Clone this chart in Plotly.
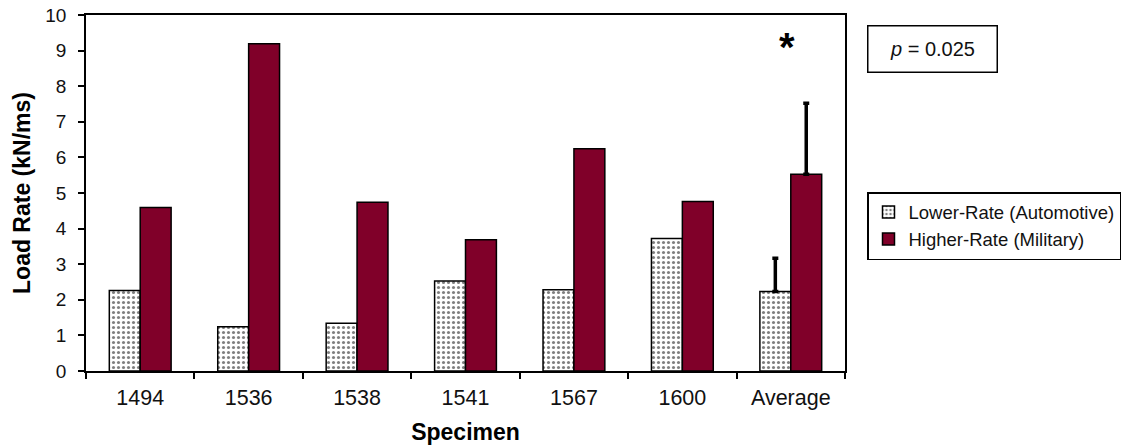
import plotly.graph_objects as go

specimens = ["1494", "1536", "1538", "1541", "1567", "1600"]
avg_label = "Average"
lower_rate = [2.26, 1.24, 1.34, 2.53, 2.28, 3.72]
higher_rate = [4.59, 9.19, 4.74, 3.69, 6.24, 4.76]
lower_avg = [2.23]
higher_avg = [5.53]
lower_sd = [0.94]
higher_sd = [1.99]
y_ticks = [0, 1, 2, 3, 4, 5, 6, 7, 8, 9, 10]

FONT = "Liberation Sans, Arial, sans-serif"
RED = "#800029"
lower_marker = dict(color="white",
                    pattern=dict(shape=".", fgcolor="black", bgcolor="white", size=5, solidity=0.3),
                    line=dict(color="black", width=1.5))
higher_marker = dict(color=RED, line=dict(color="black", width=1.5))
err_style = dict(type="data", symmetric=False, color="black", thickness=3.5, width=3)

fig = go.Figure()
fig.add_trace(go.Bar(x=specimens, y=lower_rate, name="Lower-Rate (Automotive)",
                     marker=lower_marker, offsetgroup="L", legendgroup="L"))
fig.add_trace(go.Bar(x=specimens, y=higher_rate, name="Higher-Rate (Military)",
                     marker=higher_marker, offsetgroup="H", legendgroup="H"))
fig.add_trace(go.Bar(x=[avg_label], y=lower_avg, name="Lower-Rate (Automotive)",
                     marker=lower_marker, offsetgroup="L", legendgroup="L", showlegend=False,
                     error_y=dict(array=lower_sd, arrayminus=[0], **err_style)))
fig.add_trace(go.Bar(x=[avg_label], y=higher_avg, name="Higher-Rate (Military)",
                     marker=higher_marker, offsetgroup="H", legendgroup="H", showlegend=False,
                     error_y=dict(array=higher_sd, arrayminus=[0], **err_style)))

# plot area target: x 86..845, y 15..371 (body margin removed in the page)
W, H = 1123, 446
fig.update_layout(
    width=W, height=H,
    margin=dict(l=86, r=278, t=15, b=75, autoexpand=False),
    paper_bgcolor="white", plot_bgcolor="white",
    font=dict(family=FONT, size=20, color="#111"),
    barmode="group", bargap=0.43, bargroupgap=0,
    legend=dict(xref="container", yref="container",
                x=867 / W, xanchor="left", y=1 - 192 / H, yanchor="top",
                bordercolor="black", borderwidth=1.5, bgcolor="white",
                font=dict(family=FONT, size=18.5, color="#111"),
                itemwidth=30, tracegroupgap=2, traceorder="normal"),
    xaxis=dict(categoryorder="array", categoryarray=specimens + [avg_label], automargin=False,
               showline=True, linecolor="black", linewidth=1.5, mirror=True,
               ticks="outside", tickson="boundaries", ticklen=6, tickcolor="black", tickwidth=1.5,
               ticklabelstandoff=6,
               title=dict(text="<b>Specimen</b>", font=dict(size=23, color="#000"), standoff=15),
               tickfont=dict(size=21.5)),
    yaxis=dict(range=[0, 10], tickvals=y_ticks, showgrid=False, zeroline=False, automargin=False,
               showline=True, linecolor="black", linewidth=1.5, mirror=True,
               ticks="outside", ticklen=6, tickcolor="black", tickwidth=1.5,
               ticklabelstandoff=8,
               title=dict(text="<b>Load Rate (kN/ms)</b>", font=dict(size=23, color="#000"), standoff=8),
               tickfont=dict(size=19)),
)

fig.add_annotation(x=avg_label, y=9.1, xref="x", yref="y", text="<b>*</b>", showarrow=False,
                   xshift=-4, font=dict(family=FONT, size=40, color="black"), yanchor="middle")
fig.add_annotation(x=(867 - 86) / 759, y=(371 - 25) / 356, xref="paper", yref="paper",
                   xanchor="left", yanchor="top", text="<i>p</i> = 0.025", showarrow=False,
                   bordercolor="black", borderwidth=1.5, bgcolor="white", width=126, height=43,
                   font=dict(family=FONT, size=20, color="#111"))

fig.write_html("out.html", config={"displayModeBar": False},
               post_script="document.body.style.margin='0px';")
